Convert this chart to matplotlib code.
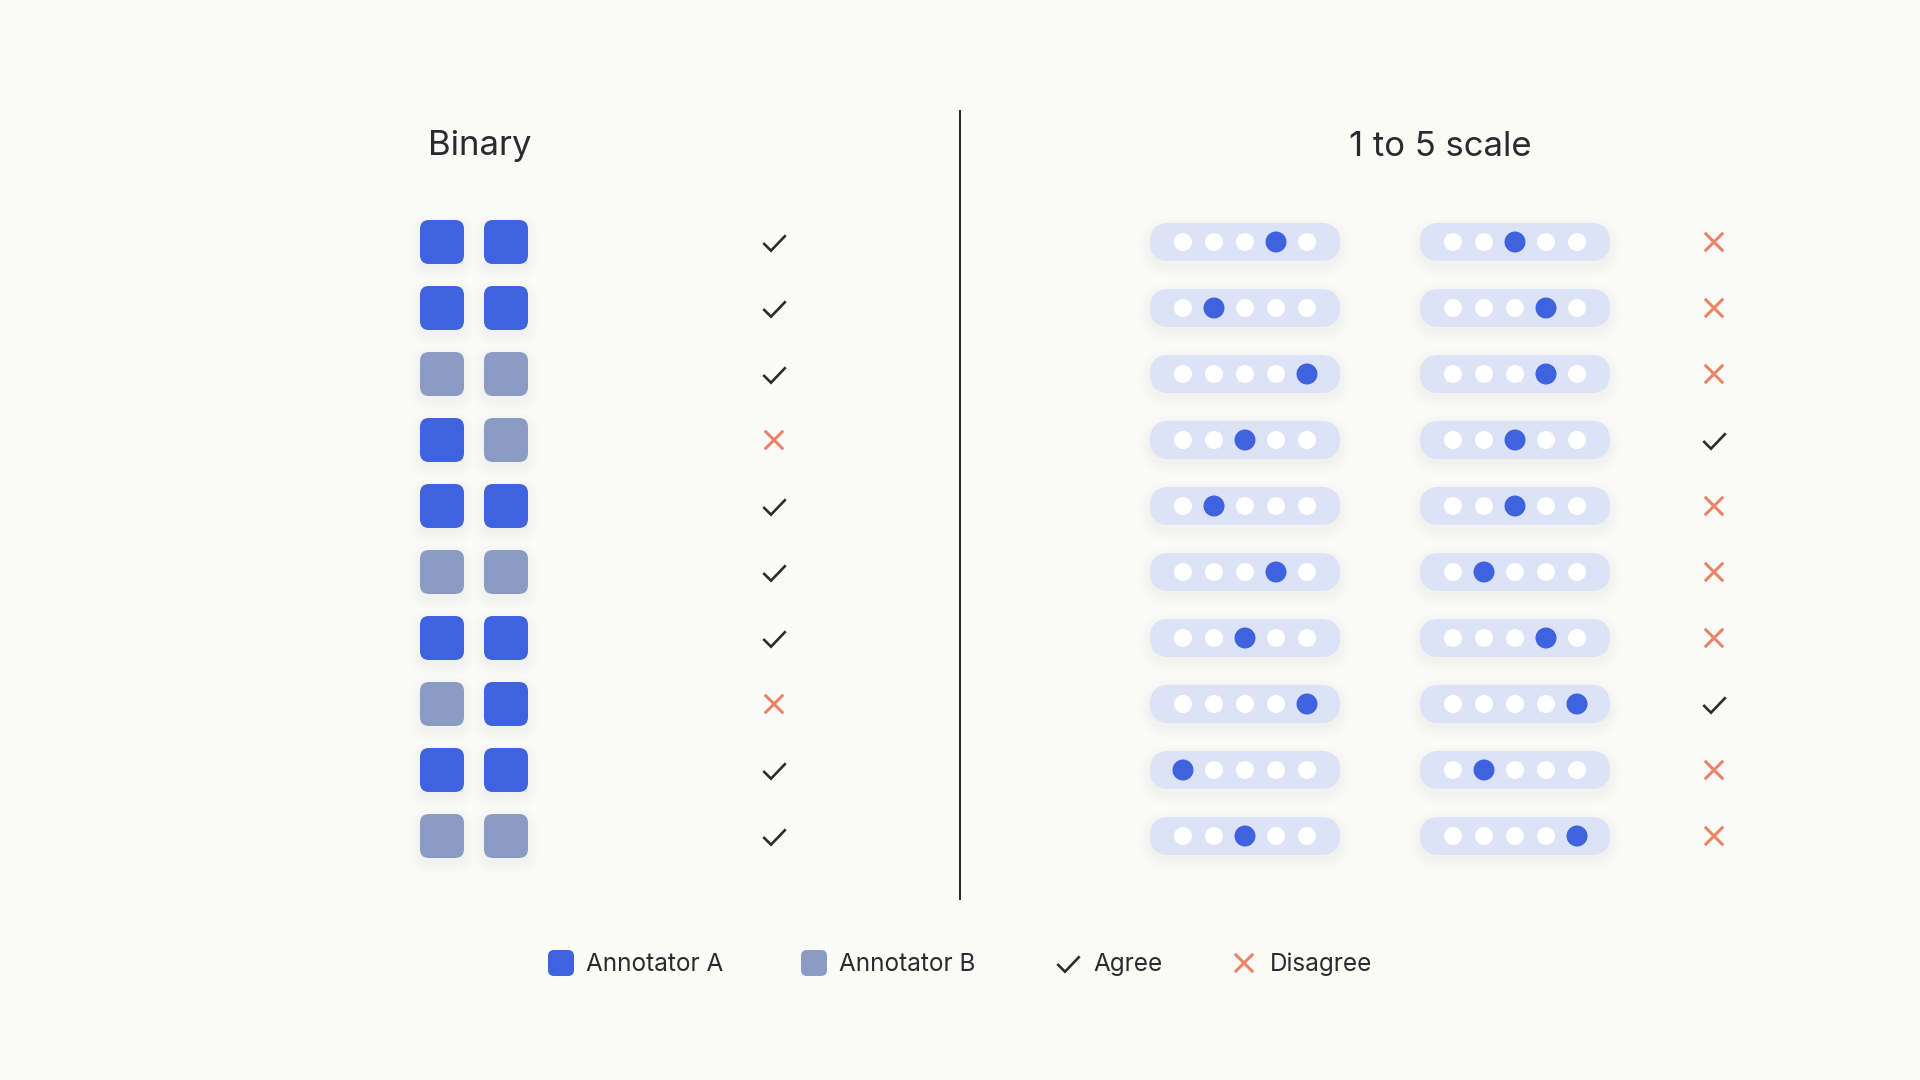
import matplotlib
matplotlib.use("Agg")
import matplotlib.pyplot as plt
from matplotlib.patches import FancyBboxPatch, Circle

# data
binary_a = [1, 1, 0, 1, 1, 0, 1, 0, 1, 0]  # 1 = blue label, 0 = grey label
binary_b = [1, 1, 0, 0, 1, 0, 1, 1, 1, 0]
scale_a = [4, 2, 5, 3, 2, 4, 3, 5, 1, 3]
scale_b = [3, 4, 4, 3, 3, 2, 4, 5, 2, 5]
scale_points = [1, 2, 3, 4, 5]
panel_titles = ["Binary", "1 to 5 scale"]
legend_labels = ["Annotator A", "Annotator B", "Agree", "Disagree"]

BG = "#FAFAF8"
BLUE = "#3F63DE"
GREY_BLUE = "#8B9CC4"
PILL = "#DDE3F6"
INK = "#2B2B2B"
RED = "#E98468"

FIRST_ROW = 242
ROW_STEP = 66

plt.rcParams["font.family"] = ["Inter", "DejaVu Sans"]

fig = plt.figure(figsize=(19.2, 10.8), dpi=100, facecolor=BG)
ax = fig.add_axes([0, 0, 1, 1])
ax.set_xlim(0, 1920)
ax.set_ylim(1080, 0)
ax.axis("off")


def rounded(x, y, w, h, r, color, shadow=True):
    # soft drop shadow made of a few faint stacked boxes
    if shadow:
        for grow in [10, 7, 4, 1]:
            ax.add_patch(FancyBboxPatch((x - grow, y + 5 - grow), w + 2 * grow, h + 2 * grow,
                                        boxstyle=f"round,pad=0,rounding_size={r + grow}",
                                        fc="#30384f", ec="none", alpha=0.006, zorder=1))
    ax.add_patch(FancyBboxPatch((x, y), w, h, boxstyle=f"round,pad=0,rounding_size={r}",
                                fc=color, ec="none", zorder=2))


def check(cx, cy, lw=2.6, s=1.0):
    ax.plot([cx - 10.7 * s, cx - 3 * s, cx + 11.7 * s], [cy, cy + 7.7 * s, cy - 7.7 * s],
            color=INK, lw=lw * 0.72, solid_joinstyle="miter", solid_capstyle="butt", zorder=3)


def cross(cx, cy, lw=3.0, s=9.2):
    for d in [1, -1]:
        ax.plot([cx - s, cx + s], [cy - d * s, cy + d * s], color=RED, lw=lw * 0.72,
                solid_capstyle="butt", zorder=3)


def pill(x, cy, value):
    rounded(x, cy - 19, 190, 38, 19, PILL)
    for p in scale_points:
        px = x + 33 + (p - 1) * 31
        if p == value:
            ax.add_patch(Circle((px, cy), 10.5, fc=BLUE, ec="none", zorder=3))
        else:
            ax.add_patch(Circle((px, cy), 9, fc="white", ec="none", zorder=3))


# binary panel
for i, (a, b) in enumerate(zip(binary_a, binary_b)):
    cy = FIRST_ROW + i * ROW_STEP
    rounded(420, cy - 22, 44, 44, 9, BLUE if a else GREY_BLUE)
    rounded(484, cy - 22, 44, 44, 9, BLUE if b else GREY_BLUE)
    if a == b:
        check(774, cy + 1)
    else:
        cross(774, cy)

# scale panel
for i, (a, b) in enumerate(zip(scale_a, scale_b)):
    cy = FIRST_ROW + i * ROW_STEP
    pill(1150, cy, a)
    pill(1420, cy, b)
    if a == b:
        check(1714, cy + 1)
    else:
        cross(1714, cy)

ax.plot([960, 960], [110, 900], color=INK, lw=2.0 * 0.72, solid_capstyle="butt")

ax.text(480, 155.5, panel_titles[0], fontsize=25, color=INK, ha="center", va="baseline")
ax.text(1440, 155.5, panel_titles[1], fontsize=25, color=INK, ha="center", va="baseline")

# legend
rounded(548, 950, 26, 26, 6, BLUE, shadow=False)
rounded(801, 950, 26, 26, 6, GREY_BLUE, shadow=False)
check(1068, 964, lw=2.6, s=1.0)
cross(1244, 963)
for tx, label in zip([586, 839, 1093, 1270], legend_labels):
    ax.text(tx, 971, label, fontsize=17.5, color=INK, ha="left", va="baseline")

fig.savefig("out.png", dpi=100, facecolor=BG)
